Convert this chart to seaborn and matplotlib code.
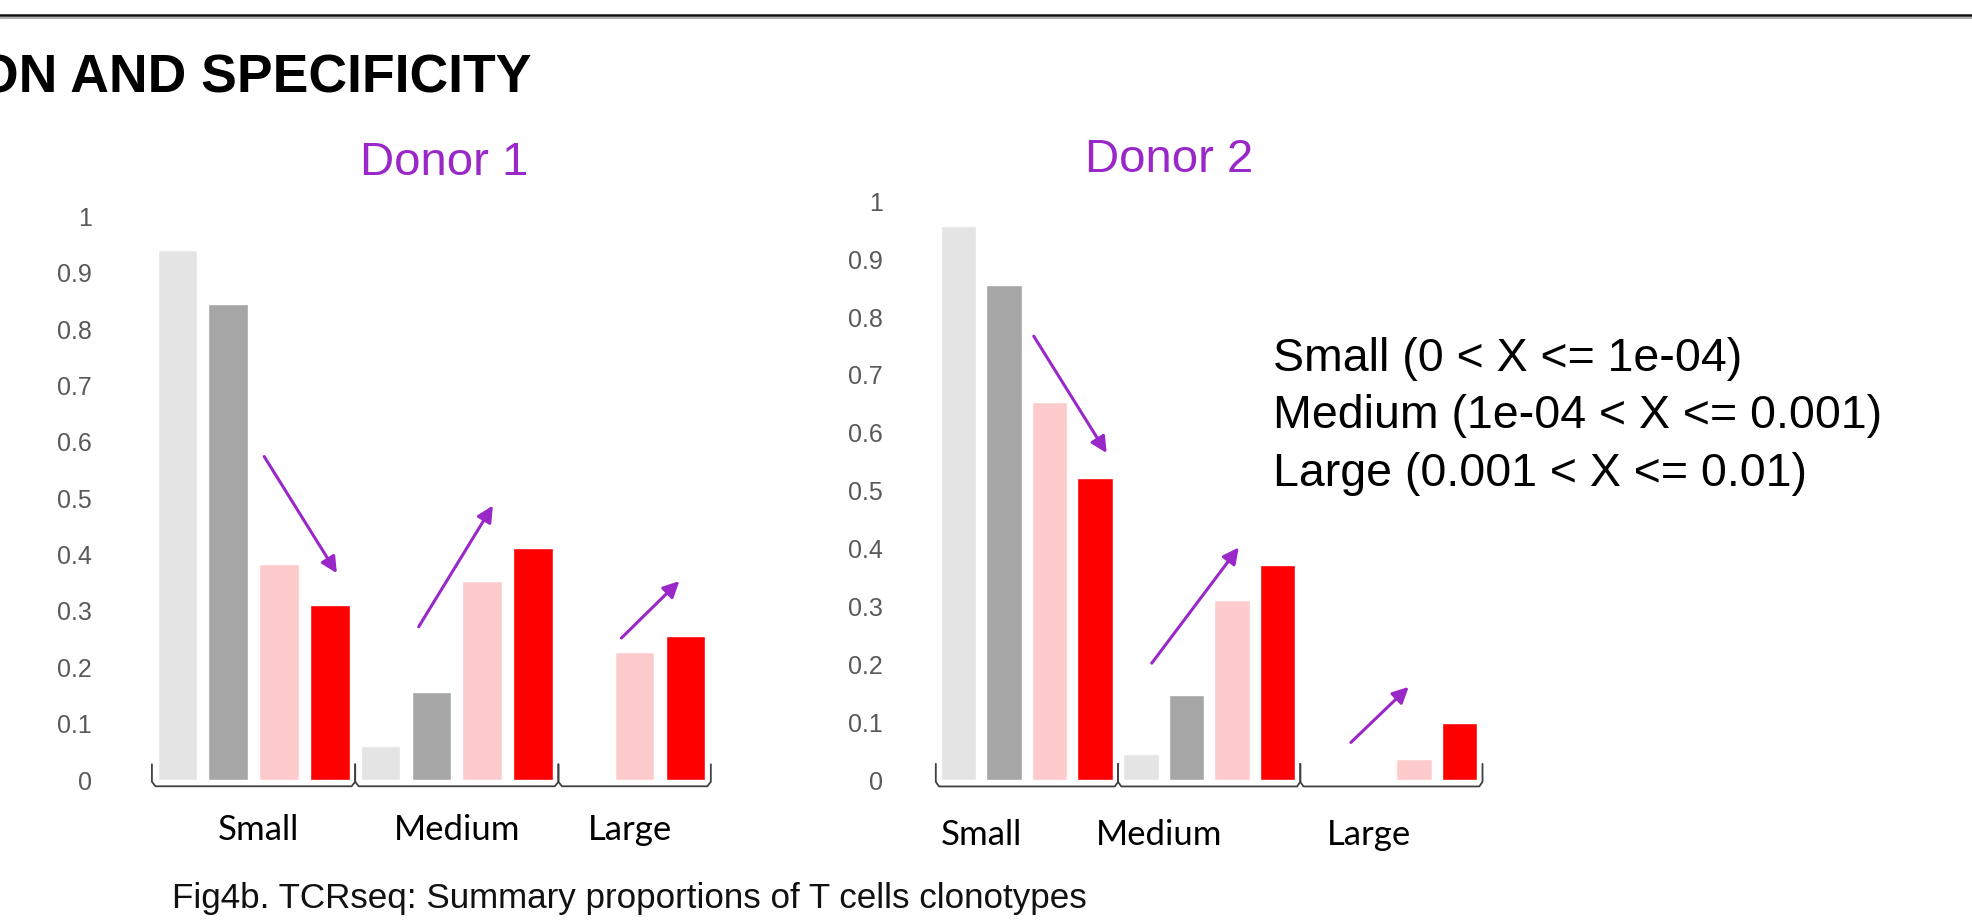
import numpy as np
import pandas as pd
import matplotlib
matplotlib.use("Agg")
import matplotlib.pyplot as plt
from matplotlib.lines import Line2D
import seaborn as sns

# clone size groups and the four series (bar colours left to right)
sizes = ["Small", "Medium", "Large"]
series = ["Series 1", "Series 2", "Series 3", "Series 4"]
colors = ["#E4E4E4", "#A6A6A6", "#FDCBCB", "#FF0000"]

# Donor 1 (no light grey slot in the Large group)
d1_s1 = [0.94, 0.06, None]
d1_s2 = [0.845, 0.157, 0.0]
d1_s3 = [0.384, 0.354, 0.228]
d1_s4 = [0.311, 0.412, 0.256]

# Donor 2
d2_s1 = [0.958, 0.045, 0.0]
d2_s2 = [0.855, 0.147, 0.0]
d2_s3 = [0.654, 0.312, 0.037]
d2_s4 = [0.522, 0.371, 0.098]

yticks = [0, 0.1, 0.2, 0.3, 0.4, 0.5, 0.6, 0.7, 0.8, 0.9, 1]
ytick_labels = ["0", "0.1", "0.2", "0.3", "0.4", "0.5", "0.6", "0.7", "0.8", "0.9", "1"]

# trend arrows (start, end) in bar-slot / value units
d1_arrows = [((1.71, 0.574), (3.14, 0.367)),
             ((4.75, 0.272), (6.21, 0.487)),
             ((8.74, 0.252), (9.88, 0.353))]
d2_arrows = [((1.65, 0.767), (3.25, 0.565)),
             ((4.24, 0.202), (6.15, 0.402)),
             ((8.61, 0.065), (9.88, 0.161))]

legend_lines = ["Small (0 < X <= 1e-04)",
                "Medium (1e-04 < X <= 0.001)",
                "Large (0.001 < X <= 0.01)"]
caption = "Fig4b. TCRseq: Summary proportions of T cells clonotypes"
header = "ON AND SPECIFICITY"

purple = "#9A27C8"


def build_frame(cols):
    rows = []
    for i, size in enumerate(sizes):
        for name, vals in zip(series, cols):
            if vals[i] is None:
                continue
            rows.append({"size": size, "series": name, "value": vals[i],
                         "slot": "{}-{}".format(size, name)})
    return pd.DataFrame(rows)


def bracket(ax, x0, x1, top=0.028, bot=-0.011):
    dx, r = 0.07, 0.008
    xs = [x0, x0, x0 + dx, x1 - dx, x1, x1]
    ys = [top, bot + r, bot, bot, bot + r, top]
    ax.plot(xs, ys, color="#404040", lw=1.3, clip_on=False, solid_capstyle="round")


def draw_panel(ax, df, arrows, label_offsets, label_y, pad):
    sns.barplot(data=df, x="slot", y="value", hue="series", order=list(df["slot"]),
                hue_order=series, palette=dict(zip(series, colors)), dodge=False,
                width=0.78, saturation=1, errorbar=None, legend=False, ax=ax)
    n = len(df)
    ax.set_xlim(-0.5, n - 0.5)
    ax.set_ylim(0, 1)
    ax.set_xticks([])
    ax.set_yticks(yticks)
    ax.set_yticklabels(ytick_labels)
    ax.set_xlabel("")
    ax.set_ylabel("")
    ax.tick_params(axis="y", length=0, pad=pad, labelsize=18, labelcolor="#595959")
    sns.despine(ax=ax, left=True, bottom=True)
    ax.patch.set_alpha(0)

    start = 0
    for size, off in zip(sizes, label_offsets):
        cnt = int((df["size"] == size).sum())
        x0, x1 = start - 0.5, start + cnt - 0.5
        bracket(ax, x0, x1)
        ax.text((x0 + x1) / 2 + off, label_y, size, ha="center", va="center",
                fontsize=25, family="Lato", color="black", clip_on=False)
        start += cnt

    for (xs, ys), (xe, ye) in arrows:
        ax.annotate("", xy=(xe, ye), xytext=(xs, ys),
                    arrowprops=dict(arrowstyle="-|>", color=purple, lw=2.2,
                                    mutation_scale=24, shrinkA=0, shrinkB=0))


sns.set_theme(style="white")
plt.rcParams["font.family"] = ["Liberation Sans", "DejaVu Sans"]

fig = plt.figure(figsize=(19.72, 9.21), dpi=100)
fig.patch.set_facecolor("white")

df1 = build_frame([d1_s1, d1_s2, d1_s3, d1_s4])
df2 = build_frame([d2_s1, d2_s2, d2_s3, d2_s4])

ax1 = fig.add_axes([0.07704, 0.15301, 0.28342, 0.61202])
ax2 = fig.add_axes([0.47455, 0.15301, 0.27723, 0.62842])

draw_panel(ax1, df1, d1_arrows, [0.1, 0.0, -0.1], -0.088, 43)
draw_panel(ax2, df2, d2_arrows, [-1.0, -1.1, -0.5], -0.095, 38)

# slide decorations
fig.add_artist(Line2D([0, 1], [0.9805, 0.9805], transform=fig.transFigure,
                      color="#B0B0B0", lw=1.5))
fig.add_artist(Line2D([0, 1], [0.9835, 0.9835], transform=fig.transFigure,
                      color="#111111", lw=1.8))
fig.text(-0.0115, 0.900, header, ha="left", va="baseline", fontsize=38.5,
         fontweight="bold", color="black")

fig.text(0.2252, 0.8225, "Donor 1", ha="center", va="center", fontsize=34, color=purple)
fig.text(0.5930, 0.8268, "Donor 2", ha="center", va="center", fontsize=34, color=purple)

for i, line in enumerate(legend_lines):
    fig.text(0.6455, 0.6107 - i * 0.0625, line, ha="left", va="center",
             fontsize=33.5, color="black")

fig.text(0.0873, 0.024, caption, ha="left", va="center", fontsize=25.2,
         color="#111111")

fig.savefig("out.png", dpi=100, facecolor="white")
